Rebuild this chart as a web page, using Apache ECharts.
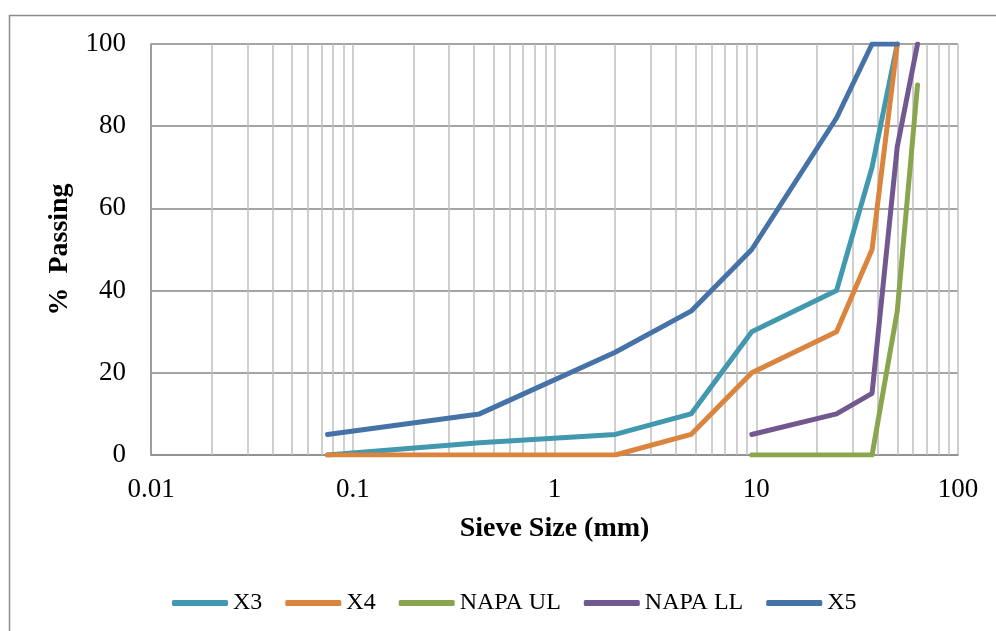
<!DOCTYPE html>
<html>
<head>
<meta charset="utf-8">
<script src="https://cdn.jsdelivr.net/npm/echarts@6/dist/echarts.min.js"></script>
<style>
  html, body { margin: 0; padding: 0; background: #fff; }
  #chart { width: 996px; height: 631px; }
</style>
</head>
<body>
<div id="chart"></div>
<script>
// sieve sizes (mm) and % passing for each gradation
const sieves = [0.075, 0.425, 2, 4.75, 9.5, 25, 37.5, 50];
const passX3 = [0, 3, 5, 10, 30, 40, 70, 100];
const passX4 = [0, 0, 0, 5, 20, 30, 50, 100];
const passX5 = [5, 10, 25, 35, 50, 82, 100, 100];

const napaSieves = [9.5, 25, 37.5, 50, 63];
const napaUL = [0, 0, 0, 35, 90];
const napaLL = [5, 10, 15, 75, 100];

// minor vertical grid lines of the log axis
const minorTicks = [];
[0.01, 0.1, 1, 10].forEach(d => {
  for (let k = 2; k <= 9; k++) minorTicks.push(+(d * k).toPrecision(3));
});

const pairs = (xs, ys) => xs.map((x, i) => [x, ys[i]]);

const serif = "Liberation Serif";

const lineSeries = (name, color, data) => ({
  name: name,
  type: "line",
  data: data,
  symbol: "none",
  lineStyle: { color: color, width: 5, cap: "round", join: "round" },
  itemStyle: { color: color },
  z: 5,
  animation: false,
});

const option = {
  animation: false,
  backgroundColor: "#fff",
  grid: { left: 151, top: 44, right: 38, bottom: 176 },
  graphic: [
    {
      type: "rect",
      shape: { x: 9.5, y: 15.5, width: 1100, height: 800 },
      style: { fill: "none", stroke: "#8c8c8c", lineWidth: 1.5 },
      silent: true,
      z: -10,
    },
  ],
  xAxis: {
    type: "log",
    logBase: 10,
    min: 0.01,
    max: 100,
    name: "Sieve Size (mm)",
    nameLocation: "middle",
    nameGap: 60,
    nameTextStyle: { fontFamily: serif, fontWeight: "bold", fontSize: 28, color: "#000" },
    axisLine: { lineStyle: { color: "#8c8c8c", width: 1.5 } },
    axisTick: { show: false },
    axisLabel: {
      fontFamily: serif,
      fontSize: 27,
      color: "#000",
      margin: 21,
      formatter: v => String(v),
    },
    splitLine: { show: true, lineStyle: { color: "#bfbfbf", width: 1.5 } },
  },
  yAxis: {
    type: "value",
    min: 0,
    max: 100,
    interval: 20,
    name: "%  Passing",
    nameLocation: "middle",
    nameGap: 77,
    nameRotate: 90,
    nameTextStyle: { fontFamily: serif, fontWeight: "bold", fontSize: 28, color: "#000" },
    axisLine: { show: true, lineStyle: { color: "#8c8c8c", width: 1.5 } },
    axisTick: { show: false },
    axisLabel: { fontFamily: serif, fontSize: 27, color: "#000", margin: 25 },
    splitLine: { show: true, lineStyle: { color: "#868686", width: 1.5 } },
  },
  legend: {
    top: 586,
    left: 167,
    icon: "roundRect",
    itemWidth: 56,
    itemHeight: 6,
    itemGap: 23,
    textStyle: { fontFamily: serif, fontSize: 24, color: "#000" },
    data: ["X3", "X4", "NAPA UL", "NAPA LL", "X5"],
  },
  series: [
    {
      name: "minor",
      type: "line",
      data: [],
      silent: true,
      markLine: {
        silent: true,
        symbol: "none",
        label: { show: false },
        lineStyle: { color: "#bfbfbf", width: 1.5, type: "solid" },
        data: minorTicks.map(v => ({ xAxis: v })),
        animation: false,
      },
      z: 1,
    },
    lineSeries("X3", "#4198AF", pairs(sieves, passX3)),
    lineSeries("X4", "#DB843D", pairs(sieves, passX4)),
    lineSeries("NAPA UL", "#89A54E", pairs(napaSieves, napaUL)),
    lineSeries("NAPA LL", "#71588F", pairs(napaSieves, napaLL)),
    lineSeries("X5", "#4572A7", pairs(sieves, passX5)),
  ],
};

const chart = echarts.init(document.getElementById("chart"));
chart.setOption(option);
</script>
</body>
</html>
